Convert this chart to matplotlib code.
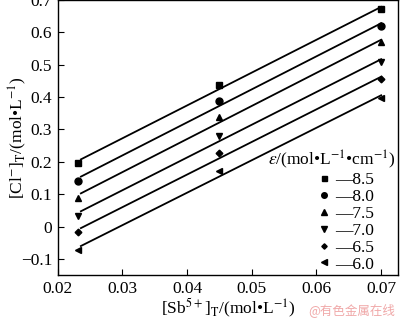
import numpy as np
import matplotlib
matplotlib.use("Agg")
import matplotlib.pyplot as plt
from matplotlib.lines import Line2D

plt.rcParams['font.family'] = ['Liberation Serif', 'DejaVu Serif']
plt.rcParams['mathtext.fontset'] = 'stix'

sb = [0.0232, 0.045, 0.070]
eps_labels = ['8.5', '8.0', '7.5', '7.0', '6.5', '6.0']
markers = ['s', 'o', '^', 'v', 'D', '<']
msizes = [4.5, 5.0, 5.0, 5.0, 3.4, 4.6]
cl = {
    '8.5': [0.197, 0.437, 0.673],
    '8.0': [0.142, 0.388, 0.621],
    '7.5': [0.089, 0.339, 0.569],
    '7.0': [0.034, 0.281, 0.509],
    '6.5': [-0.018, 0.228, 0.455],
    '6.0': [-0.074, 0.173, 0.397],
}
fit_x = [0.0236, 0.070]

fig = plt.figure(figsize=(4.0, 3.24), dpi=100)
ax = fig.add_axes([0.144, 0.151, 0.851, 0.849])

handles = []
for lab, m, ms in zip(eps_labels, markers, msizes):
    y = cl[lab]
    ax.plot(sb, y, linestyle='none', marker=m, color='black', markersize=ms)
    k, b = np.polyfit(sb, y, 1)
    xf = np.array(fit_x)
    ax.plot(xf, k * xf + b, color='black', lw=1.3)
    handles.append(Line2D([], [], linestyle='none', marker=m, color='black',
                          markersize=ms * 0.8))

ax.set_xlim(0.02, 0.0726)
ax.set_ylim(-0.15, 0.70)
ax.set_xticks([0.02, 0.03, 0.04, 0.05, 0.06, 0.07])
ax.set_xticklabels(['0.02', '0.03', '0.04', '0.05', '0.06', '0.07'])
ax.set_yticks([-0.1, 0, 0.1, 0.2, 0.3, 0.4, 0.5, 0.6, 0.7])
ax.set_yticklabels(['\u22120.1', '0', '0.1', '0.2', '0.3', '0.4', '0.5', '0.6', '0.7'])
ax.tick_params(axis='x', direction='in', length=4, labelsize=12.5, pad=4)
ax.tick_params(axis='y', direction='in', length=4, labelsize=12.5, pad=4)
for s in ax.spines.values():
    s.set_linewidth(1.0)

ax.set_xlabel('[Sb$^{5+}$]$_\\mathrm{T}$/(mol\u2022L$^{-1}$)', fontsize=12.5, labelpad=0)
ax.set_ylabel('[Cl$^{-}$]$_\\mathrm{T}$/(mol\u2022L$^{-1}$)', fontsize=12.5)
ax.yaxis.set_label_coords(-0.085, 0.5)

ax.text(0.991, 0.418, '$\\varepsilon$/(mol\u2022L$^{-1}$\u2022cm$^{-1}$)', transform=ax.transAxes,
        ha='right', va='center', fontsize=12.5)
leg = ax.legend(handles, ['\u2014' + l for l in eps_labels], loc='lower right',
                bbox_to_anchor=(0.965, -0.035), frameon=False, fontsize=12.5,
                handlelength=0.5, handletextpad=0.4, labelspacing=0.04,
                borderpad=0.2)

fig.text(0.988, 0.02, '@有色金属在线', ha='right', va='bottom', fontsize=9,
         color='#f0a8a8', family=['Noto Sans CJK SC', 'DejaVu Sans'])

fig.savefig('out.png', dpi=100)
